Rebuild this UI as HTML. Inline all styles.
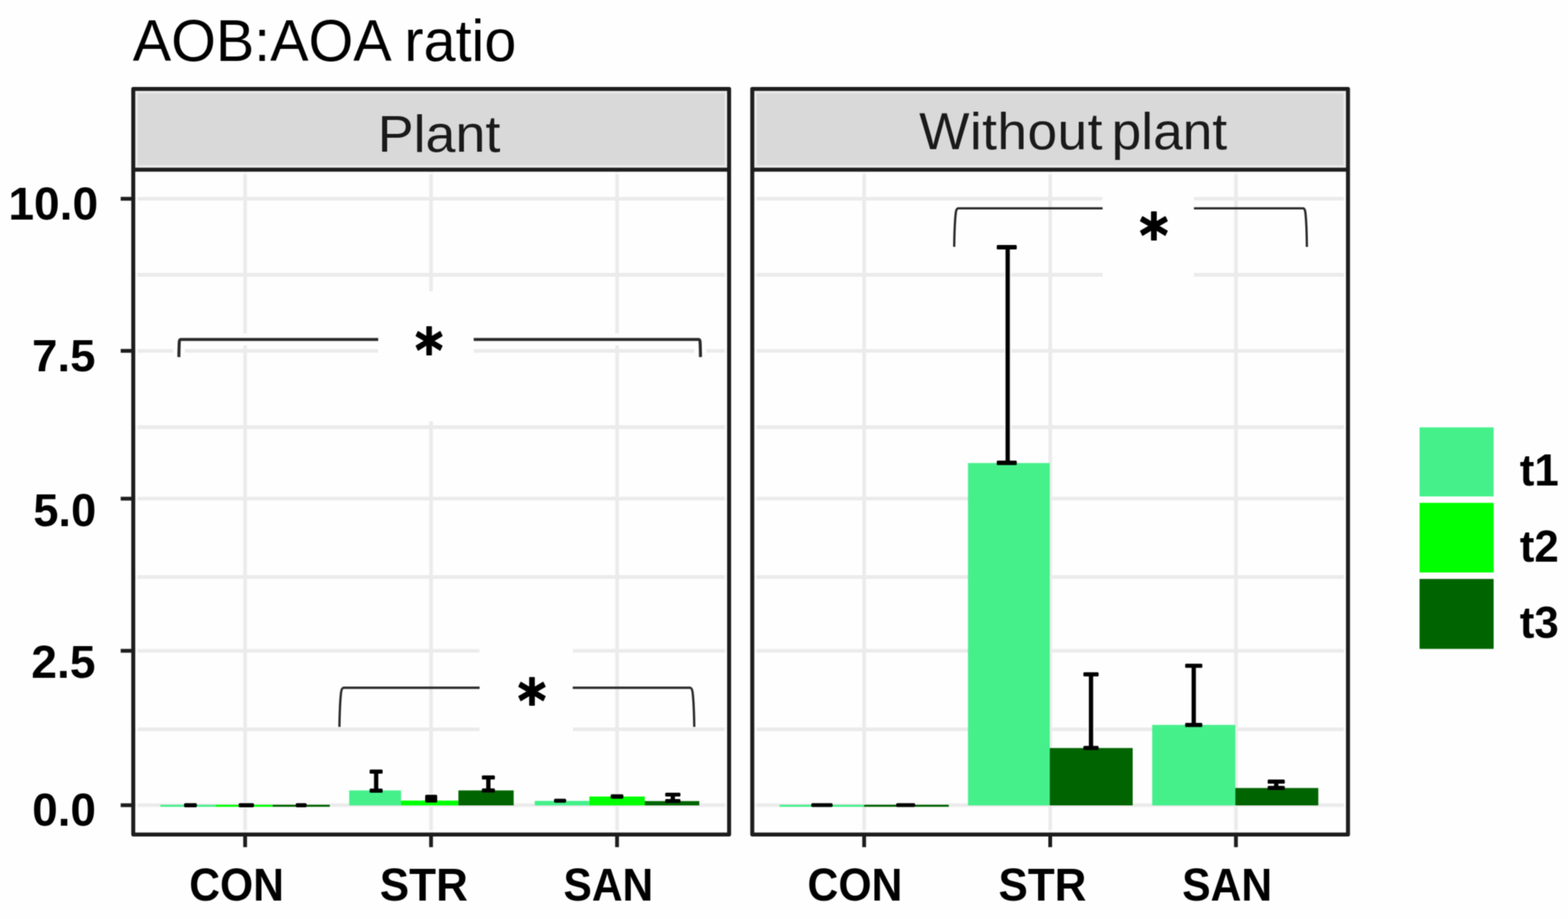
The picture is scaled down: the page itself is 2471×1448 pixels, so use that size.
<!DOCTYPE html>
<html lang="en"><head><meta charset="utf-8"><title>AOB:AOA ratio</title>
<style>
html,body{margin:0;padding:0;background:#fff;}
body{width:2471px;height:1448px;overflow:hidden;}
svg{display:block;}
text{font-family:"Liberation Sans",sans-serif;}
.b{font-weight:bold;}
.star{font-family:"DejaVu Sans","Liberation Sans",sans-serif;font-weight:bold;stroke:#000;stroke-width:2.2px;stroke-linejoin:round;}
</style></head><body>
<svg width="2471" height="1448" viewBox="0 0 2471 1448">
<defs><filter id="soft" x="0" y="0" width="2471" height="1448" filterUnits="userSpaceOnUse" color-interpolation-filters="sRGB"><feConvolveMatrix order="3" kernelMatrix="1 2 1 2 4 2 1 2 1" divisor="16" edgeMode="duplicate" preserveAlpha="true"/></filter></defs>
<g filter="url(#soft)">
<rect x="0" y="0" width="2471" height="1448" fill="#fefefe"/>
<g stroke="#EBEBEB" stroke-width="5.8" fill="none">
<line x1="210.0" x2="1149.0" y1="313.2" y2="313.2"/>
<line x1="210.0" x2="1149.0" y1="433.0" y2="433.0"/>
<line x1="210.0" x2="1149.0" y1="552.8" y2="552.8"/>
<line x1="210.0" x2="1149.0" y1="673.0" y2="673.0"/>
<line x1="210.0" x2="1149.0" y1="785.7" y2="785.7"/>
<line x1="210.0" x2="1149.0" y1="909.1" y2="909.1"/>
<line x1="210.0" x2="1149.0" y1="1025.4" y2="1025.4"/>
<line x1="210.0" x2="1149.0" y1="1149.1" y2="1149.1"/>
<line x1="210.0" x2="1149.0" y1="1268.7" y2="1268.7"/>
<line x1="386.3" x2="386.3" y1="267.4" y2="1314.8"/>
<line x1="679.3" x2="679.3" y1="267.4" y2="1314.8"/>
<line x1="972.4" x2="972.4" y1="267.4" y2="1314.8"/>
</g>
<g stroke="#EBEBEB" stroke-width="5.8" fill="none">
<line x1="1185.5" x2="2124.3" y1="313.2" y2="313.2"/>
<line x1="1185.5" x2="2124.3" y1="433.0" y2="433.0"/>
<line x1="1185.5" x2="2124.3" y1="552.8" y2="552.8"/>
<line x1="1185.5" x2="2124.3" y1="673.0" y2="673.0"/>
<line x1="1185.5" x2="2124.3" y1="785.7" y2="785.7"/>
<line x1="1185.5" x2="2124.3" y1="909.1" y2="909.1"/>
<line x1="1185.5" x2="2124.3" y1="1025.4" y2="1025.4"/>
<line x1="1185.5" x2="2124.3" y1="1149.1" y2="1149.1"/>
<line x1="1185.5" x2="2124.3" y1="1268.7" y2="1268.7"/>
<line x1="1361.8" x2="1361.8" y1="267.4" y2="1314.8"/>
<line x1="1655.0" x2="1655.0" y1="267.4" y2="1314.8"/>
<line x1="1947.7" x2="1947.7" y1="267.4" y2="1314.8"/>
</g>
<rect x="596.0" y="459.0" width="150.5" height="205.0" fill="#fefefe"/>
<rect x="755.5" y="985.0" width="147.5" height="205.0" fill="#fefefe"/>
<rect x="1737.5" y="270.0" width="144.0" height="210.0" fill="#fefefe"/>
<rect x="288.0" y="1263.6" width="24.3" height="10.4" fill="#ffffff" fill-opacity="0.50"/>
<rect x="374.0" y="1263.6" width="28.3" height="10.4" fill="#ffffff" fill-opacity="0.50"/>
<rect x="464.0" y="1263.6" width="21.3" height="10.4" fill="#ffffff" fill-opacity="0.50"/>
<rect x="586.9" y="1215.8" width="11.8" height="30.0" fill="#ffffff" fill-opacity="0.70"/>
<rect x="580.0" y="1210.0" width="25.5" height="11.5" fill="#ffffff" fill-opacity="0.70"/>
<rect x="668.0" y="1250.2" width="23.0" height="16.3" fill="#ffffff" fill-opacity="0.50"/>
<rect x="763.7" y="1225.0" width="11.8" height="20.6" fill="#ffffff" fill-opacity="0.70"/>
<rect x="756.9" y="1219.2" width="25.5" height="11.5" fill="#ffffff" fill-opacity="0.70"/>
<rect x="871.0" y="1256.5" width="23.2" height="10.2" fill="#ffffff" fill-opacity="0.50"/>
<rect x="960.4" y="1249.6" width="24.0" height="10.9" fill="#ffffff" fill-opacity="0.50"/>
<rect x="1054.4" y="1252.0" width="11.8" height="10.0" fill="#ffffff" fill-opacity="0.70"/>
<rect x="1045.8" y="1246.5" width="29.0" height="11.0" fill="#ffffff" fill-opacity="0.70"/>
<rect x="1276.4" y="1263.4" width="37.8" height="10.2" fill="#ffffff" fill-opacity="0.50"/>
<rect x="1410.2" y="1263.4" width="34.0" height="10.2" fill="#ffffff" fill-opacity="0.50"/>
<rect x="1582.1" y="389.5" width="11.8" height="339.7" fill="#ffffff" fill-opacity="0.70"/>
<rect x="1568.2" y="383.5" width="36.5" height="12.0" fill="#ffffff" fill-opacity="0.70"/>
<rect x="1713.4" y="1062.6" width="11.8" height="116.0" fill="#ffffff" fill-opacity="0.70"/>
<rect x="1704.8" y="1056.8" width="29.0" height="11.5" fill="#ffffff" fill-opacity="0.70"/>
<rect x="1875.3" y="1049.1" width="11.8" height="93.1" fill="#ffffff" fill-opacity="0.70"/>
<rect x="1865.2" y="1043.3" width="32.0" height="11.5" fill="#ffffff" fill-opacity="0.70"/>
<rect x="2005.3" y="1231.4" width="11.8" height="10.2" fill="#ffffff" fill-opacity="0.70"/>
<rect x="1995.2" y="1225.7" width="32.0" height="11.5" fill="#ffffff" fill-opacity="0.70"/>
<rect x="252.6" y="1268.0" width="87.0" height="3.2" fill="#45F08B"/>
<rect x="339.6" y="1268.0" width="90.1" height="3.2" fill="#00FF00"/>
<rect x="429.7" y="1268.0" width="90.0" height="3.2" fill="#006400"/>
<rect x="290.0" y="1265.6" width="20.3" height="6.4" fill="#000" rx="2"/>
<rect x="376.0" y="1265.6" width="24.3" height="6.4" fill="#000" rx="2"/>
<rect x="466.0" y="1265.6" width="17.3" height="6.4" fill="#000" rx="2"/>
<rect x="550.3" y="1245.4" width="81.7" height="23.6" fill="#45F08B"/>
<rect x="632.0" y="1261.4" width="90.4" height="7.6" fill="#00FF00"/>
<rect x="722.4" y="1245.4" width="87.1" height="23.6" fill="#006400"/>
<rect x="589.4" y="1215.8" width="6.8" height="30.0" fill="#000"/>
<rect x="582.5" y="1212.5" width="20.5" height="6.5" fill="#000" rx="1.5"/>
<rect x="582.5" y="1242.5" width="20.5" height="6.5" fill="#000" rx="1.5"/>
<rect x="670.0" y="1252.2" width="19.0" height="12.3" fill="#000" rx="2"/>
<rect x="766.2" y="1225.0" width="6.8" height="20.6" fill="#000"/>
<rect x="759.4" y="1221.8" width="20.5" height="6.5" fill="#000" rx="1.5"/>
<rect x="759.4" y="1242.3" width="20.5" height="6.5" fill="#000" rx="1.5"/>
<rect x="842.7" y="1261.9" width="86.0" height="7.1" fill="#45F08B"/>
<rect x="928.7" y="1255.0" width="87.4" height="14.0" fill="#00FF00"/>
<rect x="1016.1" y="1262.2" width="85.9" height="6.8" fill="#006400"/>
<rect x="873.0" y="1258.5" width="19.2" height="6.2" fill="#000" rx="2"/>
<rect x="962.4" y="1251.6" width="20.0" height="6.9" fill="#000" rx="2"/>
<rect x="1056.9" y="1252.0" width="6.8" height="10.0" fill="#000"/>
<rect x="1048.3" y="1249.0" width="24.0" height="6.0" fill="#000" rx="1.5"/>
<rect x="1048.3" y="1259.0" width="24.0" height="6.0" fill="#000" rx="1.5"/>
<rect x="1228.4" y="1268.0" width="133.1" height="3.2" fill="#45F08B"/>
<rect x="1361.5" y="1268.0" width="133.7" height="3.2" fill="#006400"/>
<rect x="1278.4" y="1265.4" width="33.8" height="6.2" fill="#000" rx="2"/>
<rect x="1412.2" y="1265.4" width="30.0" height="6.2" fill="#000" rx="2"/>
<rect x="1525.4" y="729.6" width="128.9" height="539.4" fill="#45F08B"/>
<rect x="1654.3" y="1178.6" width="130.7" height="90.4" fill="#006400"/>
<rect x="1815.7" y="1142.2" width="131.0" height="126.8" fill="#45F08B"/>
<rect x="1946.7" y="1241.6" width="130.8" height="27.4" fill="#006400"/>
<rect x="1584.6" y="389.5" width="6.8" height="339.7" fill="#000"/>
<rect x="1570.8" y="386.0" width="31.5" height="7.0" fill="#000" rx="1.5"/>
<rect x="1570.8" y="725.7" width="31.5" height="7.0" fill="#000" rx="1.5"/>
<rect x="1715.9" y="1062.6" width="6.8" height="116.0" fill="#000"/>
<rect x="1707.3" y="1059.3" width="24.0" height="6.5" fill="#000" rx="1.5"/>
<rect x="1707.3" y="1175.3" width="24.0" height="6.5" fill="#000" rx="1.5"/>
<rect x="1877.8" y="1049.1" width="6.8" height="93.1" fill="#000"/>
<rect x="1867.7" y="1045.8" width="27.0" height="6.5" fill="#000" rx="1.5"/>
<rect x="1867.7" y="1139.0" width="27.0" height="6.5" fill="#000" rx="1.5"/>
<rect x="2007.8" y="1231.4" width="6.8" height="10.2" fill="#000"/>
<rect x="1997.7" y="1228.2" width="27.0" height="6.5" fill="#000" rx="1.5"/>
<rect x="1997.7" y="1238.3" width="27.0" height="6.5" fill="#000" rx="1.5"/>
<path d="M281.9 562.6 C282.0 553.4 282.2 544.3 282.6 538.1 Q282.8 535.2 284.7 534.8 L596.0 534.8" fill="none" stroke="#fefefe" stroke-width="18.8" stroke-linecap="square"/>
<path d="M746.5 534.8 L1101.1 534.8 Q1103.0 535.2 1103.2 538.1 C1103.6 544.3 1103.8 553.4 1103.9 562.6" fill="none" stroke="#fefefe" stroke-width="18.8" stroke-linecap="square"/>
<path d="M281.9 562.6 C282.0 553.4 282.2 544.3 282.6 538.1 Q282.8 535.2 284.7 534.8 L596.0 534.8" fill="none" stroke="#2a2a2a" stroke-width="4.8" stroke-linejoin="round"/>
<path d="M746.5 534.8 L1101.1 534.8 Q1103.0 535.2 1103.2 538.1 C1103.6 544.3 1103.8 553.4 1103.9 562.6" fill="none" stroke="#2a2a2a" stroke-width="4.8" stroke-linejoin="round"/>
<path d="M534.9 1145.3 C535.2 1124.9 535.9 1104.6 537.5 1091.0 Q538.3 1084.5 541.2 1083.6 L755.8 1083.6" fill="none" stroke="#2a2a2a" stroke-width="3.6" stroke-linejoin="round"/>
<path d="M902.6 1083.6 L1087.8 1083.6 Q1090.7 1084.5 1091.5 1091.0 C1093.1 1104.6 1093.8 1124.9 1094.1 1145.3" fill="none" stroke="#2a2a2a" stroke-width="3.6" stroke-linejoin="round"/>
<path d="M1503.7 388.9 C1504.0 368.9 1504.6 348.8 1506.2 335.5 Q1506.9 329.1 1509.8 328.2 L1737.6 328.2" fill="none" stroke="#2a2a2a" stroke-width="3.6" stroke-linejoin="round"/>
<path d="M1881.5 328.2 L2053.9 328.2 Q2056.6 329.1 2057.2 335.5 C2058.7 348.8 2059.3 368.9 2059.5 388.9" fill="none" stroke="#2a2a2a" stroke-width="3.6" stroke-linejoin="round"/>
<rect x="210.0" y="140.2" width="939.0" height="127.2" fill="#D9D9D9"/>
<rect x="215.2" y="145.3" width="928.7" height="116.9" fill="none" stroke="#ffffff" stroke-opacity="0.45" stroke-width="4.0"/>
<rect x="215.2" y="272.5" width="928.7" height="1037.1" fill="none" stroke="#ffffff" stroke-opacity="0.7" stroke-width="4.0"/>
<rect x="210.0" y="140.2" width="939.0" height="1174.6" fill="none" stroke="#1d1d1d" stroke-width="6.3" stroke-linejoin="round"/>
<line x1="210.0" x2="1149.0" y1="267.4" y2="267.4" stroke="#1d1d1d" stroke-width="6.3"/>
<line x1="386.3" x2="386.3" y1="1314.8" y2="1334.8" stroke="#1d1d1d" stroke-width="6"/>
<line x1="679.3" x2="679.3" y1="1314.8" y2="1334.8" stroke="#1d1d1d" stroke-width="6"/>
<line x1="972.4" x2="972.4" y1="1314.8" y2="1334.8" stroke="#1d1d1d" stroke-width="6"/>
<rect x="1185.5" y="140.2" width="938.8" height="127.2" fill="#D9D9D9"/>
<rect x="1190.7" y="145.3" width="928.5" height="116.9" fill="none" stroke="#ffffff" stroke-opacity="0.45" stroke-width="4.0"/>
<rect x="1190.7" y="272.5" width="928.5" height="1037.1" fill="none" stroke="#ffffff" stroke-opacity="0.7" stroke-width="4.0"/>
<rect x="1185.5" y="140.2" width="938.8" height="1174.6" fill="none" stroke="#1d1d1d" stroke-width="6.3" stroke-linejoin="round"/>
<line x1="1185.5" x2="2124.3" y1="267.4" y2="267.4" stroke="#1d1d1d" stroke-width="6.3"/>
<line x1="1361.8" x2="1361.8" y1="1314.8" y2="1334.8" stroke="#1d1d1d" stroke-width="6"/>
<line x1="1655.0" x2="1655.0" y1="1314.8" y2="1334.8" stroke="#1d1d1d" stroke-width="6"/>
<line x1="1947.7" x2="1947.7" y1="1314.8" y2="1334.8" stroke="#1d1d1d" stroke-width="6"/>
<line x1="190.2" x2="210" y1="313.2" y2="313.2" stroke="#1d1d1d" stroke-width="6"/>
<line x1="190.2" x2="210" y1="552.8" y2="552.8" stroke="#1d1d1d" stroke-width="6"/>
<line x1="190.2" x2="210" y1="785.7" y2="785.7" stroke="#1d1d1d" stroke-width="6"/>
<line x1="190.2" x2="210" y1="1025.4" y2="1025.4" stroke="#1d1d1d" stroke-width="6"/>
<line x1="190.2" x2="210" y1="1268.7" y2="1268.7" stroke="#1d1d1d" stroke-width="6"/>
<rect x="2237.1" y="673.4" width="116.7" height="108.8" fill="#45F08B"/>
<rect x="2237.1" y="792.3" width="116.7" height="109.7" fill="#00FF00"/>
<rect x="2237.1" y="912.2" width="116.7" height="110.2" fill="#006400"/>
<text class="n" transform="translate(209.20 96.36) scale(0.9746 0.9921)" font-size="93" fill="#000">AOB:AOA ratio</text>
<text class="n" transform="translate(595.17 238.74) scale(1.0220 0.9735)" font-size="83" fill="#1a1a1a">Plant</text>
<text class="n" transform="translate(0 235.44) scale(1.0121 0.9784)" font-size="83" fill="#1a1a1a" x="1431.25" dx="0.00 0.65 0.65 0.65 0.65 0.65 0.65 0.00 -8.80 0.00 0.00 0.00 0.00">Without plant</text>
<text class="b" transform="translate(13.15 346.28) scale(1.0104 0.9971)" font-size="72" fill="#000">10.0</text>
<text class="b" transform="translate(50.45 585.40) scale(0.9995 0.9758)" font-size="72" fill="#000">7.5</text>
<text class="b" transform="translate(52.38 829.07) scale(0.9912 1.0087)" font-size="72" fill="#000">5.0</text>
<text class="b" transform="translate(49.22 1068.38) scale(1.0120 0.9990)" font-size="72" fill="#000">2.5</text>
<text class="b" transform="translate(50.74 1301.38) scale(1.0050 0.9952)" font-size="72" fill="#000">0.0</text>
<text class="b" transform="translate(298.30 1418.67) scale(0.9320 1.0068)" font-size="72" fill="#000">CON</text>
<text class="b" transform="translate(598.52 1418.67) scale(0.9639 1.0068)" font-size="72" fill="#000">STR</text>
<text class="b" transform="translate(888.05 1418.67) scale(0.9299 1.0068)" font-size="72" fill="#000">SAN</text>
<text class="b" transform="translate(1272.60 1418.67) scale(0.9346 1.0068)" font-size="72" fill="#000">CON</text>
<text class="b" transform="translate(1573.52 1418.67) scale(0.9632 1.0068)" font-size="72" fill="#000">STR</text>
<text class="b" transform="translate(1862.95 1418.67) scale(0.9333 1.0068)" font-size="72" fill="#000">SAN</text>
<text class="b" transform="translate(2395.00 765.10) scale(0.9610 0.9797)" font-size="72" fill="#000">t1</text>
<text class="b" transform="translate(2395.00 884.90) scale(0.9610 0.9778)" font-size="72" fill="#000">t2</text>
<text class="b" transform="translate(2395.00 1005.19) scale(0.9610 0.9874)" font-size="72" fill="#000">t3</text>
<text class="star" transform="translate(654.29 585.12) scale(0.8400 0.9455)" font-size="100" fill="#000">*</text>
<text class="star" transform="translate(816.07 1137.34) scale(0.8540 0.9352)" font-size="100" fill="#000">*</text>
<text class="star" transform="translate(1795.75 403.77) scale(0.8660 0.9476)" font-size="100" fill="#000">*</text>
</g>
</svg></body></html>
